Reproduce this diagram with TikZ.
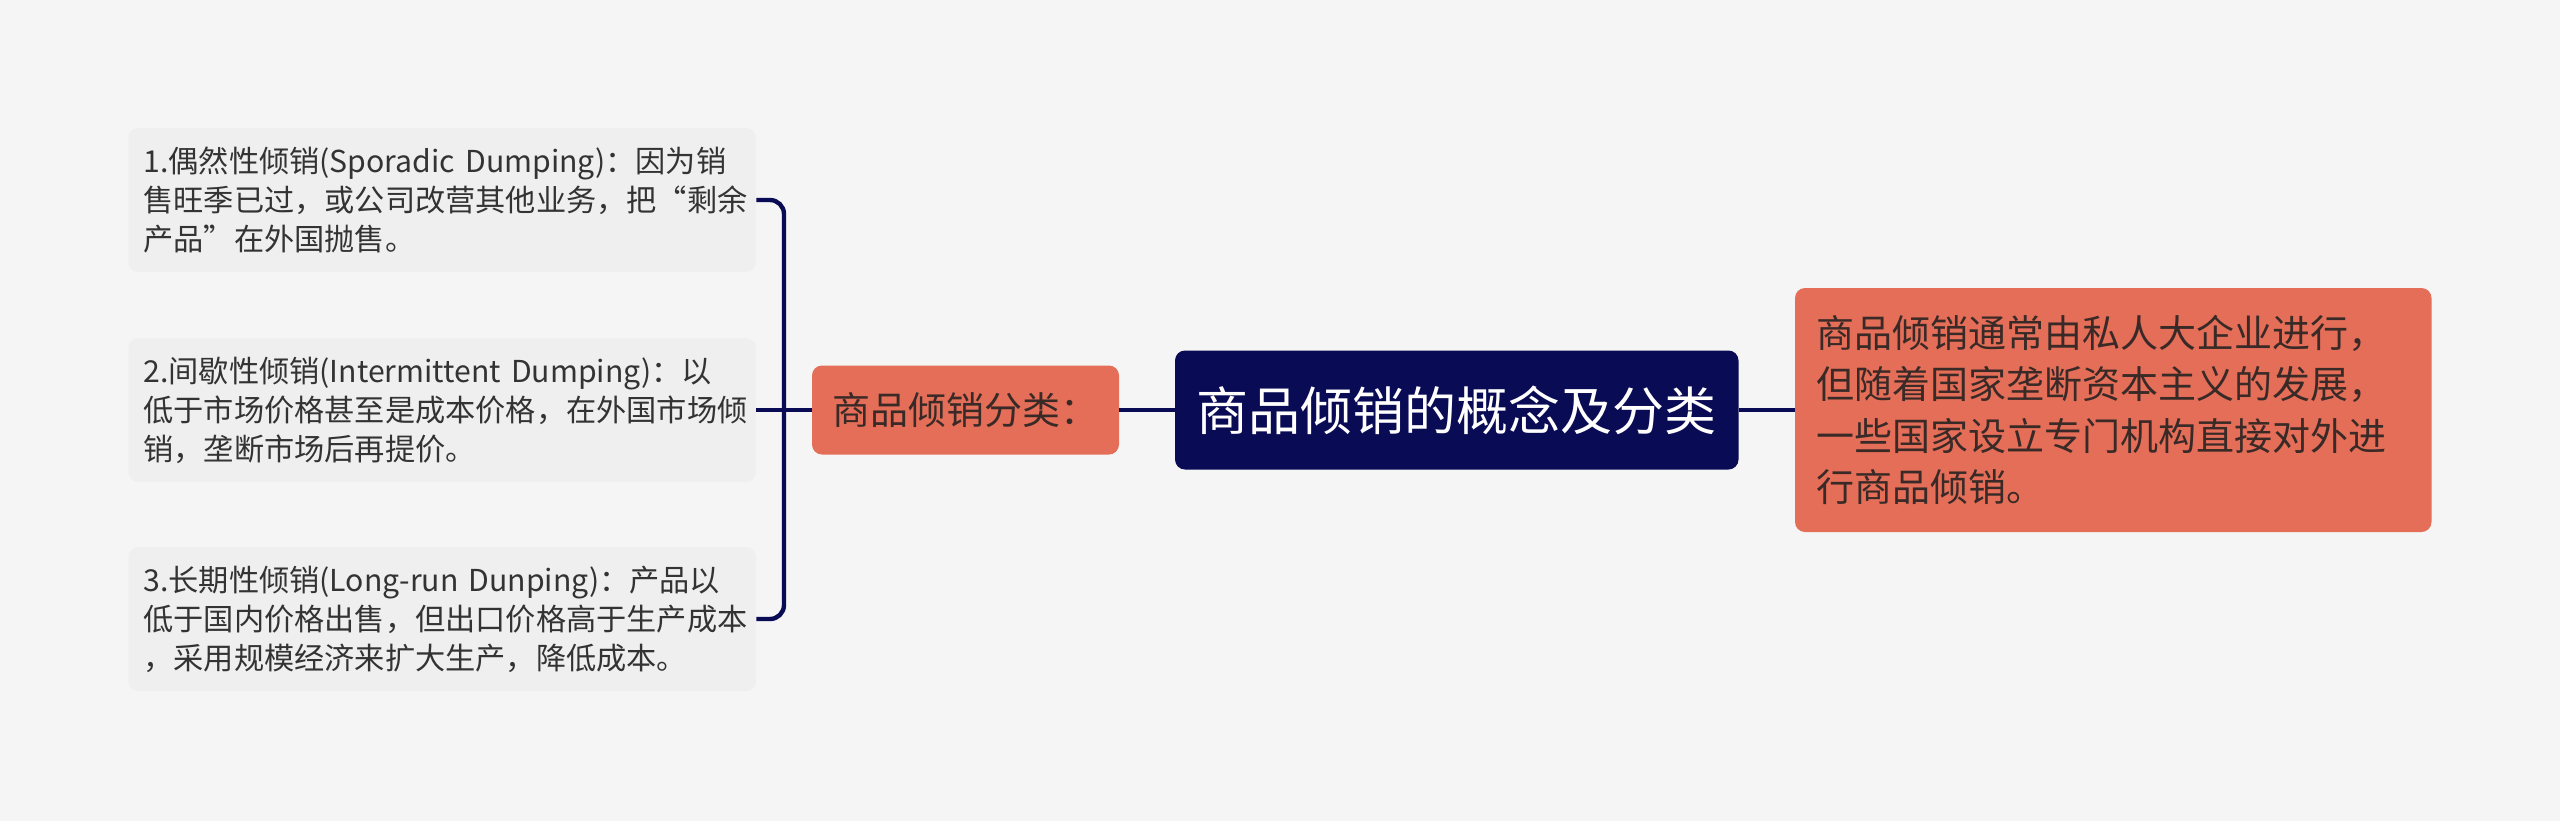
\documentclass[tikz,border=0pt]{standalone}
\usepackage{fontspec}
\setmainfont{Noto Sans CJK SC}
\usetikzlibrary{calc}
\definecolor{bgc}{HTML}{F5F5F5}
\definecolor{leafc}{HTML}{EFEFEF}
\definecolor{navyc}{HTML}{0A0B55}
\definecolor{orangec}{HTML}{E46E58}
\definecolor{txtc}{HTML}{333333}
\definecolor{otxtc}{HTML}{3A2A27}
\tikzset{
  leafbox/.style={fill=leafc, rounded corners=5pt, minimum width=313.75pt, minimum height=72pt,
    inner xsep=7.5pt, text width=298.75pt, align=left, text=txtc,
    font=\fontsize{15.1pt}{19.5pt}\selectfont},
  clsbox/.style={fill=orangec, rounded corners=5pt, minimum width=153.5pt, minimum height=44.5pt,
    align=center, text=otxtc, font=\fontsize{19pt}{24pt}\selectfont},
  rootbox/.style={fill=navyc, rounded corners=5pt, minimum width=281.75pt, minimum height=59.5pt,
    align=center, text=white, font=\fontsize{26pt}{32pt}\selectfont},
  notebox/.style={fill=orangec, rounded corners=5pt, minimum width=318.25pt, minimum height=122pt,
    inner xsep=10.5pt, text width=297.25pt, align=left, text=otxtc,
    font=\fontsize{19pt}{25.75pt}\selectfont},
  conn/.style={draw=navyc, line width=2.2pt}
}
\begin{document}
\begin{tikzpicture}[x=0.5pt,y=-0.5pt]
\fill[bgc] (0,0) rectangle (2560,821);
\useasboundingbox (0,0) rectangle (2560,821);

\coordinate (bk) at (784,410);

\node[rootbox] (root) at (1456.75,410) {商品倾销的概念及分类};
\node[clsbox] (cls) at (965.5,410) {商品倾销分类：};
\node[notebox] (note) at (2113.25,410) {\mbox{商品倾销通常由私人大企业进行，}\\\mbox{但随着国家垄断资本主义的发展，}\\\mbox{一些国家设立专门机构直接对外进}\\\mbox{行商品倾销。}};

\node[leafbox] (leaf1) at (442.25,200) {\mbox{1.偶然性倾销(Sporadic Dumping)：因为销}\\\mbox{售旺季已过，或公司改营其他业务，把“剩余}\\\mbox{产品”在外国抛售。}};
\node[leafbox] (leaf2) at (442.25,410) {\mbox{2.间歇性倾销(Intermittent Dumping)：以}\\\mbox{低于市场价格甚至是成本价格，在外国市场倾}\\\mbox{销，垄断市场后再提价。}};
\node[leafbox] (leaf3) at (442.25,619) {\mbox{3.长期性倾销(Long-run Dunping)：产品以}\\\mbox{低于国内价格出售，但出口价格高于生产成本}\\\mbox{，采用规模经济来扩大生产，降低成本。}};

\draw[conn] (root.east) -- (note.west);
\draw[conn] (cls.east) -- (root.west);
\draw[conn] (leaf2.east) -- (cls.west);
\draw[conn, rounded corners=7pt] (leaf1.east) -| (bk) |- (leaf3.east);
\end{tikzpicture}
\end{document}
